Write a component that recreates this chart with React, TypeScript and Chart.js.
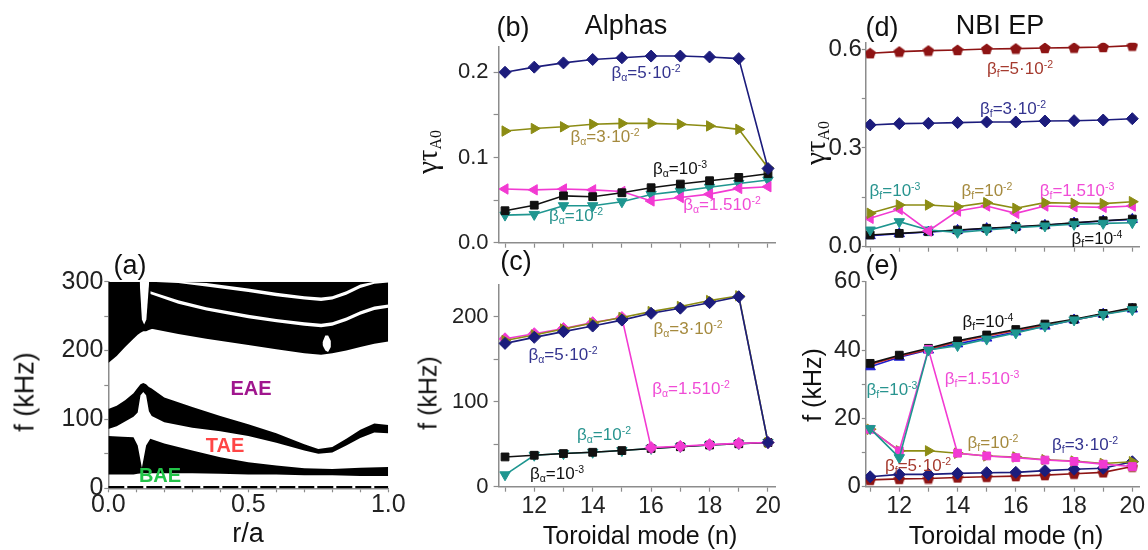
import React, { useEffect, useRef } from "react";
import { Chart, registerables } from "chart.js";

Chart.register(...registerables);

const W = 1148;
const H = 550;
const FONT = '"Liberation Sans", Arial, sans-serif';
const AXIS = "#8c8c8c";
const TICK = "#222222";
const Y_W = 80;
const X_H = 50;

// ---------------- DATA ----------------
const nModes = [11, 12, 13, 14, 15, 16, 17, 18, 19, 20];
const nTicks = [11, 12, 13, 14, 15, 16, 17, 18, 19, 20];
const nLabels = [12, 14, 16, 18, 20];

// (b) Alphas: growth rate gamma*tauA0
const bGrowth5e2 = [0.2, 0.206, 0.211, 0.215, 0.217, 0.219, 0.219, 0.218, 0.216, 0.087];
const bGrowth3e2 = [0.131, 0.134, 0.136, 0.139, 0.14, 0.14, 0.139, 0.137, 0.133, 0.088];
const bGrowth1e3 = [0.0375, 0.044, 0.055, 0.054, 0.0586, 0.0645, 0.0688, 0.0727, 0.0766, 0.081];
const bGrowth15e2 = [0.063, 0.062, 0.063, 0.062, 0.06, 0.049, 0.053, 0.057, 0.0637, 0.0657];
const bGrowth1e2 = [0.0324, 0.0332, 0.0434, 0.0434, 0.048, 0.0566, 0.0605, 0.065, 0.0695, 0.0735];
const bTicks = [0, 0.05, 0.1, 0.15, 0.2];
const bLabels = [0, 0.1, 0.2];

// (c) Alphas: frequency (kHz)
const cFreq5e2 = [168.6, 175.7, 182.4, 189, 196, 204, 210, 216.5, 223.5, 52];
const cFreq3e2 = [172, 178.5, 185.5, 192.5, 199, 206, 212, 219, 224.5, 52];
const cFreq15e2 = [174, 180, 186, 193, 199, 46, 47.5, 49.5, 51, 52];
const cFreq1e2 = [14, 37, 39, 40.5, 42.5, 45, 47, 49, 50.5, 52];
const cFreq1e3 = [35, 37, 39, 40.5, 42.5, 45, 47, 49, 50.5, 52];
const cTicks = [0, 50, 100, 150, 200];
const cLabels = [0, 100, 200];

// (d) NBI EP: growth rate
const dGrowth5e2 = [0.588, 0.593, 0.596, 0.598, 0.601, 0.602, 0.604, 0.605, 0.607, 0.611];
const dGrowth3e2 = [0.37, 0.374, 0.375, 0.377, 0.379, 0.379, 0.382, 0.383, 0.385, 0.389];
const dGrowth1e2 = [0.1015, 0.1267, 0.1267, 0.1216, 0.1338, 0.1167, 0.1338, 0.132, 0.131, 0.1368];
const dGrowth15e3 = [0.0862, 0.1135, 0.0477, 0.1085, 0.1237, 0.1015, 0.1237, 0.1216, 0.1196, 0.1237];
const dGrowth1e3 = [0.0507, 0.076, 0.0507, 0.0436, 0.0507, 0.0578, 0.063, 0.068, 0.071, 0.073];
const dGrowth1e4 = [0.0355, 0.0405, 0.0456, 0.0507, 0.056, 0.0608, 0.066, 0.073, 0.079, 0.084];
const dGrowthBlue = [0.0334, 0.0395, 0.0445, 0.0497, 0.055, 0.06, 0.065, 0.072, 0.078, 0.083];
const dTicks = [0, 0.15, 0.3, 0.45, 0.6];
const dLabels = [0, 0.3, 0.6];

// (e) NBI EP: frequency (kHz)
const eFreq1e4 = [36.1, 38.5, 40.5, 42.7, 44.4, 46, 47.6, 49, 50.7, 52.4];
const eFreqRed = [35.8, 38.2, 40.2, 42.4, 44.1, 45.7, 47.3, 48.8, 50.5, 52.2];
const eFreqBlue = [35.1, 37.9, 40.0, 41.8, 43.5, 45.3, 47.0, 48.8, 50.5, 52.0];
const eFreq1e3 = [17, 8.5, 40, 41.3, 43.2, 45, 47, 48.8, 50.4, 51.8];
const eFreq15e3 = [16.8, 10.5, 40.2, 9.8, 9.0, 8.5, 7.8, 7.4, 6.6, 5.9];
const eFreq1e2 = [16.8, 10.5, 10.5, 9.8, 9.0, 8.7, 7.9, 7.5, 6.8, 7.3];
const eFreq3e2 = [2.9, 3.6, 3.6, 3.9, 4.1, 4.2, 4.7, 5.1, 5.4, 7.3];
const eFreq5e2 = [2.0, 2.3, 2.4, 2.7, 2.9, 3.1, 3.4, 3.8, 4.2, 5.9];
const eTicks = [0, 10, 20, 30, 40, 50, 60];
const eLabels = [0, 20, 40, 60];

// (a) Alfven continuum: band edges (r/a, f in kHz)
const aXTicks = [0, 0.1, 0.2, 0.3, 0.4, 0.5, 0.6, 0.7, 0.8, 0.9, 1.0];
const aXLabels = [0, 0.5, 1.0];
const aYTicks = [0, 50, 100, 150, 200, 250, 300];
const aYLabels = [0, 100, 200, 300];

const baeR = [0, 0.05, 0.09, 0.105, 0.12, 0.135, 0.15, 0.2, 0.3, 0.4, 0.5, 0.6, 0.7, 0.8, 0.9, 1.0];
const baeLow = [20, 20, 20, 21, 22, 22, 22, 22, 22, 21, 20, 20, 19, 19, 18, 18];
const baeHigh = [76, 75, 74, 62, 30, 62, 72, 65, 55, 45, 38, 33, 29, 28, 30, 31];

const taeR = [0, 0.03, 0.06, 0.09, 0.105, 0.115, 0.125, 0.135, 0.145, 0.155, 0.2, 0.3, 0.4, 0.5, 0.6, 0.7, 0.75, 0.8, 0.85, 0.9, 0.95, 1.0];
const taeHigh = [115, 120, 128, 138, 146, 151, 153, 151, 147, 145, 132, 118, 105, 93, 80, 64, 57, 60, 72, 85, 94, 92];
const taeLow = [86, 90, 97, 104, 110, 135, 140, 135, 112, 105, 96, 88, 83, 76, 66, 55, 50, 52, 62, 73, 81, 80];

const up1R = [0, 0.03, 0.06, 0.09, 0.105, 0.115, 0.125, 0.135, 0.145, 0.16];
const up1Low = [182, 192, 205, 217, 223, 226, 228, 228, 230, 232];
const up1High = [300, 300, 300, 300, 300, 300, 300, 300, 300, 300];

const notchR = [0.112, 0.12, 0.128, 0.136, 0.146];
const notchLow = [300, 245, 238, 245, 300];
const notchHigh = [300, 300, 300, 300, 300];

const up2R = [0.15, 0.25, 0.35, 0.5, 0.6, 0.7, 0.76, 0.8, 0.85, 0.9, 0.95, 1.0];
const up2Low = [232, 224, 217, 208, 202, 196, 194, 196, 200, 205, 210, 213];
const up2High = [300, 300, 300, 300, 300, 300, 300, 300, 300, 300, 300, 300];
const gap1Low = [282, 268, 258, 247, 241, 236, 234, 236, 243, 252, 259, 262];
const gap1High = [286, 273, 263, 252, 246, 241, 239, 241, 248, 257, 264, 267];
const gap2Low = [300, 298, 293, 285, 279, 274, 272, 274, 281, 291, 297, 299];
const gap2High = [300, 300, 298, 290, 284, 279, 277, 279, 286, 296, 300, 300];

const eyeR = [0.765, 0.775, 0.785, 0.795];
const eyeLow = [208, 200, 198, 205];
const eyeHigh = [212, 222, 222, 214];

const baseR = [0, 1];
const baseF = [1.5, 1.5];

// ---------------- COLORS ----------------
const NAVY = "#1c1c7c";
const OLIVE = "#8c8c14";
const BLACK = "#111111";
const MAGENTA = "#f23ad2";
const TEAL = "#1f9690";
const DARKRED = "#8e1414";
const BLUE = "#1d1dcf";
const RED = "#c42a2a";

const pts = (xs: number[], ys: number[]) => xs.map((x, i) => ({ x, y: ys[i] }));

function pentagon(color: string, size: number) {
  const c = document.createElement("canvas");
  c.width = size;
  c.height = size;
  const ctx = c.getContext("2d")!;
  ctx.fillStyle = color;
  ctx.beginPath();
  const r = size / 2;
  for (let i = 0; i < 5; i++) {
    const a = -Math.PI / 2 + (i * 2 * Math.PI) / 5;
    const px = r + r * Math.cos(a);
    const py = r + 0.5 + r * Math.sin(a);
    if (i === 0) ctx.moveTo(px, py);
    else ctx.lineTo(px, py);
  }
  ctx.closePath();
  ctx.fill();
  return c;
}

function series(ys: number[], color: string, style: any, rotation = 0, radius = 6) {
  return {
    data: pts(nModes, ys),
    borderColor: color,
    backgroundColor: color,
    pointBackgroundColor: color,
    pointBorderColor: color,
    borderWidth: 1.6,
    pointStyle: style,
    pointRotation: rotation,
    pointRadius: radius,
    pointBorderWidth: 1,
    fill: false,
    tension: 0,
  };
}

const has = (arr: number[], v: number) => arr.some((l) => Math.abs(l - v) < 1e-9);

function yAxis(min: number, max: number, tickVals: number[], labelVals: number[], fmt: (v: number) => string, size: number, tickLen: number, pad: number) {
  return {
    type: "linear",
    min,
    max,
    afterBuildTicks: (s: any) => {
      s.ticks = tickVals.map((v) => ({ value: v }));
    },
    afterFit: (s: any) => {
      s.width = Y_W;
      s.paddingTop = 0;
      s.paddingBottom = 0;
    },
    ticks: {
      autoSkip: false,
      padding: pad,
      color: TICK,
      font: { family: FONT, size, lineHeight: 1 },
      callback: (v: number) => (has(labelVals, v) ? fmt(v) : ""),
    },
    grid: { drawOnChartArea: false, drawTicks: true, tickLength: tickLen, tickColor: AXIS, tickWidth: 1.2 },
    border: { display: true, color: AXIS, width: 1.5 },
  };
}

function xAxis(min: number, max: number, tickVals: number[], labelVals: number[], fmt: (v: number) => string, size: number, tickLen: number, pad: number) {
  return {
    type: "linear",
    min,
    max,
    afterBuildTicks: (s: any) => {
      s.ticks = tickVals.map((v) => ({ value: v }));
    },
    afterFit: (s: any) => {
      s.height = X_H;
      s.paddingLeft = 0;
      s.paddingRight = 0;
    },
    ticks: {
      autoSkip: false,
      maxRotation: 0,
      minRotation: 0,
      padding: pad,
      color: TICK,
      font: { family: FONT, size, lineHeight: 1 },
      callback: (v: number) => (has(labelVals, v) ? fmt(v) : ""),
    },
    grid: { drawOnChartArea: false, drawTicks: true, tickLength: tickLen, tickColor: AXIS, tickWidth: 1.2 },
    border: { display: true, color: AXIS, width: 1.5 },
  };
}

function box(L: number, R: number, T: number, B: number) {
  return { left: L - Y_W, right: W - R, top: T, bottom: H - B - X_H };
}

function baseOptions(padding: any, x: any, y: any) {
  return {
    responsive: false,
    animation: false,
    devicePixelRatio: 1,
    layout: { padding },
    plugins: { legend: { display: false }, tooltip: { enabled: false } },
    events: [],
    scales: { x, y },
  };
}

function band(xs: number[], low: number[], high: number[], color: string, order: number) {
  return [
    { data: pts(xs, low), borderWidth: 0, pointRadius: 0, fill: false, order, borderColor: "rgba(0,0,0,0)" },
    { data: pts(xs, high), borderWidth: 0, pointRadius: 0, fill: "-1", backgroundColor: color, borderColor: "rgba(0,0,0,0)", order },
  ];
}

function makeA(canvas: HTMLCanvasElement) {
  const datasets: any[] = [
    ...band(baeR, baeLow, baeHigh, "#000", 3),
    ...band(taeR, taeLow, taeHigh, "#000", 3),
    ...band(up1R, up1Low, up1High, "#000", 3),
    ...band(up2R, up2Low, up2High, "#000", 3),
    ...band(up2R, gap1Low, gap1High, "#fff", 1),
    ...band(up2R, gap2Low, gap2High, "#fff", 1),
    ...band(notchR, notchLow, notchHigh, "#fff", 1),
    ...band(eyeR, eyeLow, eyeHigh, "#fff", 1),
    { data: pts(baseR, baseF), borderColor: "#000", borderWidth: 2.5, borderDash: [16, 3], pointRadius: 0, fill: false, order: 0 },
  ];
  return new Chart(canvas, {
    type: "line",
    data: { datasets },
    options: baseOptions(
      box(108.3, 388.3, 281.7, 488.3),
      xAxis(0, 1, aXTicks, aXLabels, (v) => v.toFixed(1), 25, 4, 0),
      yAxis(0, 300, aYTicks, aYLabels, (v) => String(v), 25, 4, 1)
    ) as any,
  });
}

function makeB(canvas: HTMLCanvasElement) {
  const datasets: any[] = [
    series(bGrowth5e2, NAVY, "rectRot", 0, 6),
    series(bGrowth3e2, OLIVE, "triangle", 90, 6),
    series(bGrowth1e3, BLACK, "rect", 0, 5.5),
    series(bGrowth15e2, MAGENTA, "triangle", -90, 6),
    series(bGrowth1e2, TEAL, "triangle", 180, 6),
  ];
  return new Chart(canvas, {
    type: "line",
    data: { datasets },
    options: baseOptions(
      box(498.6, 775.3, 46.7, 242.7),
      xAxis(10.78, 20.25, nTicks, [], (v) => String(v), 23, 5, 3),
      yAxis(0, 0.23, bTicks, bLabels, (v) => v.toFixed(1), 22, 5, 5)
    ) as any,
  });
}

function makeC(canvas: HTMLCanvasElement) {
  const datasets: any[] = [
    series(cFreq5e2, NAVY, "rectRot", 0, 6),
    series(cFreq3e2, OLIVE, "triangle", 90, 6),
    series(cFreq15e2, MAGENTA, "rectRot", 0, 6),
    series(cFreq1e3, BLACK, "rect", 0, 5.5),
    series(cFreq1e2, TEAL, "triangle", 180, 6),
  ];
  return new Chart(canvas, {
    type: "line",
    data: { datasets },
    options: baseOptions(
      box(498.6, 775.3, 284.4, 486.7),
      xAxis(10.78, 20.25, nTicks, nLabels, (v) => String(v), 23, 5, 3),
      yAxis(0, 238, cTicks, cLabels, (v) => String(v), 22, 5, 5)
    ) as any,
  });
}

function makeD(canvas: HTMLCanvasElement) {
  const datasets: any[] = [
    series(dGrowth5e2, DARKRED, pentagon(DARKRED, 12), 0, 6),
    series(dGrowth3e2, NAVY, "rectRot", 0, 6),
    series(dGrowth1e2, OLIVE, "triangle", 90, 6),
    series(dGrowth15e3, MAGENTA, "triangle", -90, 6),
    series(dGrowth1e3, TEAL, "triangle", 180, 6),
    series(dGrowth1e4, BLACK, "rect", 0, 5.5),
    series(dGrowthBlue, BLUE, "triangle", 0, 6),
  ];
  return new Chart(canvas, {
    type: "line",
    data: { datasets },
    options: baseOptions(
      box(865.8, 1139.6, 42.7, 246.7),
      xAxis(10.85, 20.25, nTicks, [], (v) => String(v), 23, 5, 3),
      yAxis(0, 0.62, dTicks, dLabels, (v) => v.toFixed(1), 24, 4, 0)
    ) as any,
  });
}

function makeE(canvas: HTMLCanvasElement) {
  const datasets: any[] = [
    series(eFreq1e3, TEAL, "triangle", 180, 6),
    series(eFreq15e3, MAGENTA, "rect", 0, 5.5),
    series(eFreq1e4, BLACK, "rect", 0, 5.5),
    series(eFreqRed, RED, "circle", 0, 0),
    series(eFreqBlue, BLUE, "triangle", 0, 6),
    series(eFreq1e2, OLIVE, "triangle", 90, 6),
    series(eFreq3e2, NAVY, "rectRot", 0, 6),
    series(eFreq5e2, DARKRED, pentagon(DARKRED, 12), 0, 6),
  ];
  return new Chart(canvas, {
    type: "line",
    data: { datasets },
    options: baseOptions(
      box(865.8, 1139.6, 281.7, 486.7),
      xAxis(10.85, 20.25, nTicks, nLabels, (v) => String(v), 23, 5, 3),
      yAxis(0, 60, eTicks, eLabels, (v) => String(v), 24, 4, 1)
    ) as any,
  });
}

// ---------------- TEXT ----------------
function Txt(props: { x: number; y: number; size: number; color?: string; bold?: boolean; rotate?: boolean; family?: string; children: any }) {
  const { x, y, size, color = "#111", bold = false, rotate = false, family = FONT, children } = props;
  return (
    <div
      style={{
        position: "absolute",
        left: x,
        top: y,
        transform: `translate(-50%, -50%)${rotate ? " rotate(-90deg)" : ""}`,
        fontSize: size,
        color,
        fontWeight: bold ? "bold" : "normal",
        fontFamily: family,
        lineHeight: 1,
        whiteSpace: "nowrap",
        pointerEvents: "none",
      }}
    >
      {children}
    </div>
  );
}

function Beta(props: { x: number; y: number; sub: string; pre: string; exp: string; color: string }) {
  const { x, y, sub, pre, exp, color } = props;
  return (
    <Txt x={x} y={y} size={17} color={color}>
      β<span style={{ fontSize: "0.62em", position: "relative", top: "0.3em" }}>{sub}</span>={pre}10
      <span style={{ fontSize: "0.62em", position: "relative", top: "-0.6em" }}>{exp}</span>
    </Txt>
  );
}

function GammaTau(props: { x: number; y: number }) {
  return (
    <Txt x={props.x} y={props.y} size={29} rotate family='"Liberation Serif", "DejaVu Serif", serif'>
      γτ<span style={{ fontSize: "0.55em", position: "relative", top: "0.25em" }}>A0</span>
    </Txt>
  );
}

const LBL_NAVY = "#34348f";
const LBL_TAN = "#a58a3e";
const LBL_MAG = "#f04cd6";
const LBL_TEAL = "#28948f";
const LBL_RED = "#a53a2e";

export default function App() {
  const r0 = useRef<HTMLCanvasElement>(null);
  const r1 = useRef<HTMLCanvasElement>(null);
  const r2 = useRef<HTMLCanvasElement>(null);
  const r3 = useRef<HTMLCanvasElement>(null);
  const r4 = useRef<HTMLCanvasElement>(null);

  useEffect(() => {
    const charts = [makeA(r0.current!), makeB(r1.current!), makeC(r2.current!), makeD(r3.current!), makeE(r4.current!)];
    return () => charts.forEach((c) => c.destroy());
  }, []);

  const cv = { position: "absolute" as const, left: 0, top: 0, width: W, height: H };

  return (
    <div style={{ position: "absolute", left: 0, top: 0, width: W, height: H, background: "#fff", overflow: "hidden", fontFamily: FONT }}>
      <canvas ref={r0} width={W} height={H} style={cv} />
      <canvas ref={r1} width={W} height={H} style={cv} />
      <canvas ref={r2} width={W} height={H} style={cv} />
      <canvas ref={r3} width={W} height={H} style={cv} />
      <canvas ref={r4} width={W} height={H} style={cv} />

      {/* panel (a) */}
      <Txt x={130} y={265} size={27}>(a)</Txt>
      <Txt x={25} y={392} size={27} rotate>f (kHz)</Txt>
      <Txt x={248} y={533} size={27}>r/a</Txt>
      <Txt x={251} y={388} size={20} bold color="#a0168e">EAE</Txt>
      <Txt x={225} y={445} size={20} bold color="#ff4646">TAE</Txt>
      <Txt x={160} y={475} size={20} bold color="#22c448">BAE</Txt>

      {/* panel (b) */}
      <Txt x={513} y={27} size={27}>(b)</Txt>
      <Txt x={626} y={25} size={27}>Alphas</Txt>
      <GammaTau x={427} y={152} />
      <Beta x={646} y={72} sub="α" pre="5·" exp="-2" color={LBL_NAVY} />
      <Beta x={605} y={136} sub="α" pre="3·" exp="-2" color={LBL_TAN} />
      <Beta x={680} y={168} sub="α" pre="" exp="-3" color="#111" />
      <Beta x={722} y={204} sub="α" pre="1.5" exp="-2" color={LBL_MAG} />
      <Beta x={576} y={215} sub="α" pre="" exp="-2" color={LBL_TEAL} />

      {/* panel (c) */}
      <Txt x={516} y={261} size={27}>(c)</Txt>
      <Txt x={428} y={393} size={25} rotate>f (kHz)</Txt>
      <Txt x={640} y={535} size={25}>Toroidal mode (n)</Txt>
      <Beta x={688} y={328} sub="α" pre="3·" exp="-2" color={LBL_TAN} />
      <Beta x={563} y={354} sub="α" pre="5·" exp="-2" color={LBL_NAVY} />
      <Beta x={691} y={388} sub="α" pre="1.5" exp="-2" color={LBL_MAG} />
      <Beta x={604} y={434} sub="α" pre="" exp="-2" color={LBL_TEAL} />
      <Beta x={557} y={473} sub="α" pre="" exp="-3" color="#111" />

      {/* panel (d) */}
      <Txt x={882} y={27} size={27}>(d)</Txt>
      <Txt x={1000} y={25} size={27}>NBI EP</Txt>
      <GammaTau x={815} y={143} />
      <Beta x={1020} y={68} sub="f" pre="5·" exp="-2" color={LBL_RED} />
      <Beta x={1013} y={108} sub="f" pre="3·" exp="-2" color={LBL_NAVY} />
      <Beta x={895} y={190} sub="f" pre="" exp="-3" color={LBL_TEAL} />
      <Beta x={987} y={190} sub="f" pre="" exp="-2" color={LBL_TAN} />
      <Beta x={1077} y={190} sub="f" pre="1.5" exp="-3" color={LBL_MAG} />
      <Beta x={1097} y={238} sub="f" pre="" exp="-4" color="#111" />

      {/* panel (e) */}
      <Txt x={882} y={265} size={27}>(e)</Txt>
      <Txt x={812} y={385} size={25} rotate>f (kHz)</Txt>
      <Txt x={1006} y={535} size={25}>Toroidal mode (n)</Txt>
      <Beta x={988} y={321} sub="f" pre="" exp="-4" color="#111" />
      <Beta x={892} y={389} sub="f" pre="" exp="-3" color={LBL_TEAL} />
      <Beta x={982} y={378} sub="f" pre="1.5" exp="-3" color={LBL_MAG} />
      <Beta x={993} y={442} sub="f" pre="" exp="-2" color={LBL_TAN} />
      <Beta x={1085} y={444} sub="f" pre="3·" exp="-2" color={LBL_NAVY} />
      <Beta x={918} y={465} sub="f" pre="5·" exp="-2" color={LBL_RED} />
    </div>
  );
}
